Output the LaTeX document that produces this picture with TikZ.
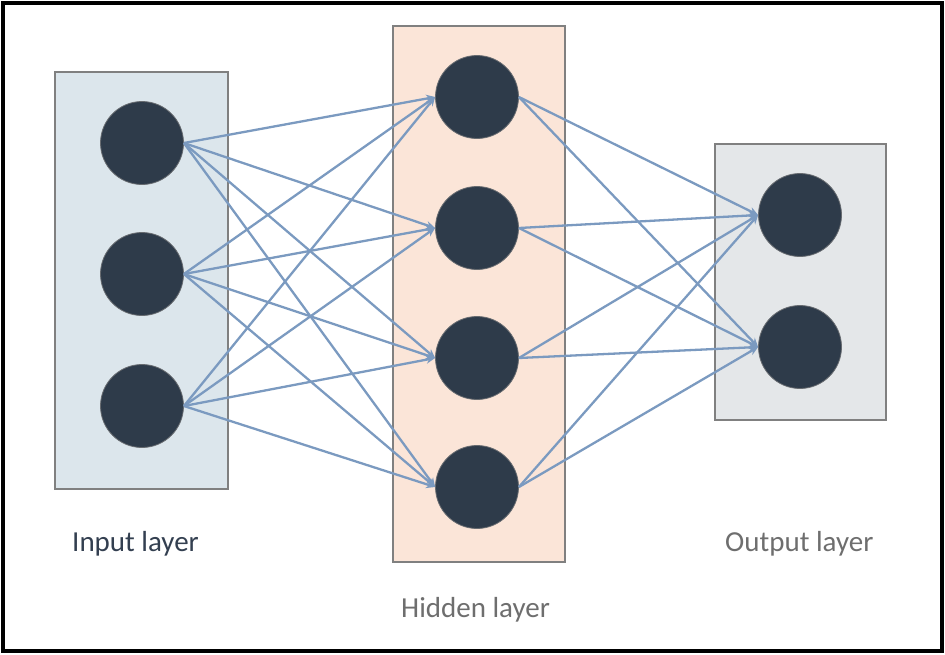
\documentclass[tikz,border=0pt]{standalone}
\usepackage{fontspec}
\setmainfont{Carlito}
\usetikzlibrary{arrows.meta}
\definecolor{nodefill}{HTML}{2E3B4A}
\definecolor{edgecol}{HTML}{7B9AC0}
\definecolor{boxline}{HTML}{808080}
\definecolor{inbox}{HTML}{DCE6EC}
\definecolor{hidbox}{HTML}{FBE5D8}
\definecolor{outbox}{HTML}{E4E7E9}
\definecolor{intext}{HTML}{333F50}
\definecolor{graytext}{HTML}{6E6E6E}
\tikzset{
  neuron/.style={circle, fill=nodefill, draw=boxline!70!nodefill, line width=0.8pt, minimum size=83pt, inner sep=0pt},
  layerbox/.style={draw=boxline, line width=2pt},
  conn/.style={draw=edgecol, line width=2.3pt, -{Stealth[length=9pt,width=8pt]}},
  lbl/.style={font=\fontsize{29}{34}\selectfont, inner sep=0pt}
}
\begin{document}
\begin{tikzpicture}[x=1pt,y=-1pt]
\useasboundingbox (0,0) rectangle (945,654);
\draw[line width=3.5pt] (3,3) rectangle (942,651);
% boxes
\node[layerbox, fill=inbox, minimum width=173pt, minimum height=417pt, inner sep=0pt] (inbox) at (141.5,280.5) {};
\node[layerbox, fill=hidbox, minimum width=172pt, minimum height=536pt, inner sep=0pt] (hidbox) at (479,294) {};
\node[layerbox, fill=outbox, minimum width=171pt, minimum height=276pt, inner sep=0pt] (outbox) at (800.5,282) {};
% neurons
\node[neuron] (i1) at (142,143) {};
\node[neuron] (i2) at (142,274) {};
\node[neuron] (i3) at (142,406) {};
\node[neuron] (h1) at (477,97) {};
\node[neuron] (h2) at (477,228) {};
\node[neuron] (h3) at (477,358) {};
\node[neuron] (h4) at (477,487) {};
\node[neuron] (o1) at (800,215) {};
\node[neuron] (o2) at (800,347) {};
% connections
\foreach \a in {i1,i2,i3}{
  \foreach \b in {h1,h2,h3,h4}{
    \draw[conn] (\a.east) -- (\b.west);
  }
}
\foreach \a in {h1,h2,h3,h4}{
  \foreach \b in {o1,o2}{
    \draw[conn] (\a.east) -- (\b.west);
  }
}
% labels
\node[lbl, text=intext, anchor=west] (lin) at (72,544) {Input layer};
\node[lbl, text=graytext, anchor=west] (lhid) at (401,610) {Hidden layer};
\node[lbl, text=graytext, anchor=west] (lout) at (725,544) {Output layer};
\end{tikzpicture}
\end{document}
